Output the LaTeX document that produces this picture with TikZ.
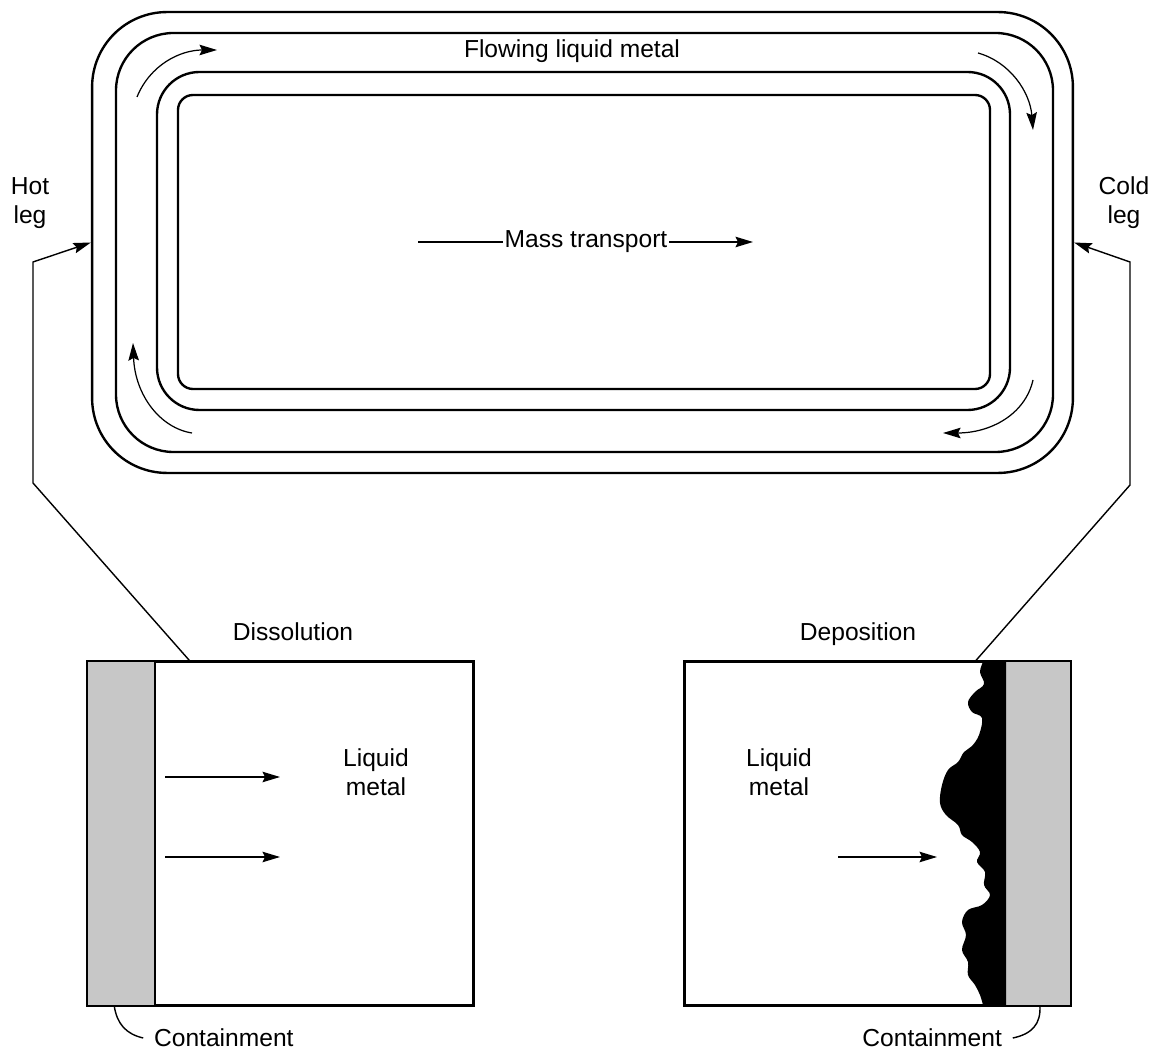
\documentclass[tikz,border=0pt]{standalone}
\usepackage{fontspec}
\setmainfont{Liberation Sans}
\usetikzlibrary{arrows.meta, positioning, calc}

\begin{document}
\begin{tikzpicture}[
    x=0.02cm, y=-0.02cm,
    font=\fontsize{14}{16.5}\selectfont,
    pipewall/.style={line width=1.35pt},
    flow/.style={line width=0.7pt, -{Stealth[length=10pt, width=6pt, inset=1.5pt]}},
    leg/.style={line width=0.8pt},
    cellbox/.style={draw, line width=1pt, minimum width=7.7cm, minimum height=6.86cm, inner sep=0pt},
    wallfill/.style={fill=black!22},
    label/.style={align=center, inner sep=1pt}
]
\useasboundingbox (0,0) rectangle (1156,1053);

% Loop - outer pipe as a node, the other walls inside it
\node[draw, pipewall, rounded corners=1.5cm, minimum width=19.62cm, minimum height=9.22cm, inner sep=0pt] (pipe) at (582.5,242.5) {};
\draw[pipewall, rounded corners=1.15cm] (116,33) rectangle (1053,452);
\draw[pipewall, rounded corners=0.85cm] (157,72) rectangle (1010,410);
\draw[pipewall, rounded corners=0.3cm] (178,95) rectangle (990,389);

% Flow direction in the channel
\draw[flow] (137,97) .. controls (150,65) and (180,50) .. (217,50);
\draw[flow] (978,53) .. controls (1010,62) and (1030,92) .. (1033,130);
\draw[flow] (1033,380) .. controls (1025,415) and (990,433) .. (943,433);
\draw[flow] (192,433) .. controls (160,428) and (135,395) .. (133,343);

\node[label] (flowtxt) at (572,51) {Flowing liquid metal};
\node[label] (masstxt) at (586,242) {Mass transport};
\coordinate (massstart) at (418,242);
\coordinate (massend) at (753,242);
\draw[line width=0.7pt] (massstart) -- (masstxt.west);
\draw[flow] (masstxt.east) -- (massend);

\node[label] (hotleg) at (30,203) {Hot\\leg};
\node[label] (coldleg) at (1124,203) {Cold\\leg};

% Dissolution cell
\node[cellbox] (dissbox) at (280.5,833.5) {};
\node[label, anchor=base] (disstxt) at (293,641) {Dissolution};
\fill[wallfill] (dissbox.north west) rectangle (155,1005);
\draw[line width=1pt] (155,662) -- (155,1005);
\draw[line width=1pt] (dissbox.north west) rectangle (dissbox.south east);
\draw[flow] (165,777) -- (280,777);
\draw[flow] (165,857) -- (280,857);
\node[label] (liqleft) at (376,772) {Liquid\\metal};

% Deposition cell
\node[cellbox] (depbox) at (877.5,833.5) {};
\node[label, anchor=base] (deptxt) at (858,641) {Deposition};
\fill[wallfill] (1006,662) rectangle (depbox.south east);
\fill[black] (1006,662)
    -- plot[smooth, tension=0.6] coordinates {(983,662) (980,672) (984,684) (975,692) (968,702) (972,712) (982,718)
        (979,735) (972,746) (964,752) (958,762) (948,770) (942,785) (940,803) (946,815) (958,825)
        (962,835) (972,842) (980,852) (977,862) (985,872) (984,885) (990,895) (982,905) (968,910)
        (962,922) (966,935) (962,950) (968,962) (968,975) (975,985) (980,995) (983,1005)}
    -- (1006,1005) -- cycle;
\draw[line width=1pt] (depbox.north west) rectangle (depbox.south east);
\draw[flow] (838,857) -- (937,857);
\node[label] (liqright) at (779,772) {Liquid\\metal};

% Hot and cold legs tied to the cells
\draw[leg, -{Stealth[length=10pt, width=6pt, inset=1.5pt]}] ($(dissbox.north west)!0.266!(dissbox.north east)$) -- (33,483) -- (33,262) -- (pipe.west);
\draw[leg, -{Stealth[length=10pt, width=6pt, inset=1.5pt]}] ($(depbox.north west)!0.753!(depbox.north east)$) -- (1130,485) -- (1130,262) -- (pipe.east);

% Containment walls
\node[label, anchor=west] (contleft) at (152,1038) {Containment};
\node[label, anchor=east] (contright) at (1004,1038) {Containment};
\draw[leg] ([xshift=-5pt]contleft.west) .. controls (126,1034) and (117,1024) .. ($(dissbox.south west)!0.07!(dissbox.south east)$);
\draw[leg] ([xshift=5pt]contright.east) .. controls (1032,1034) and (1041,1024) .. ($(depbox.south west)!0.92!(depbox.south east)$);
\end{tikzpicture}
\end{document}
